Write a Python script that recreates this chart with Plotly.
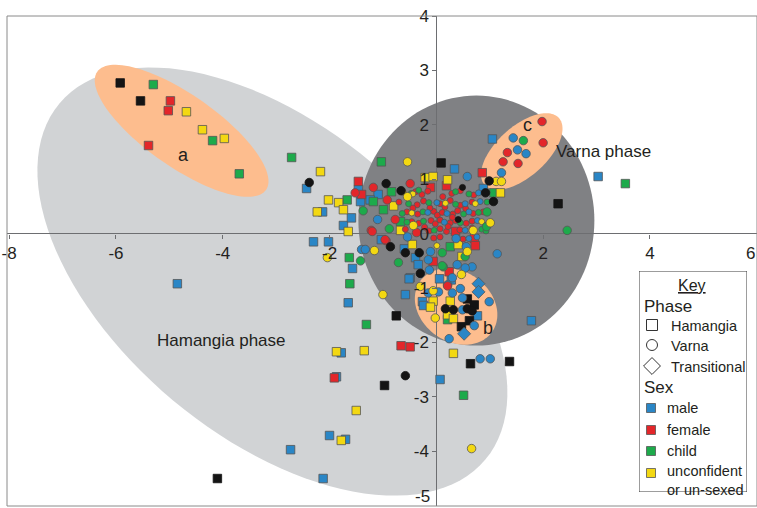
import math
import plotly.graph_objects as go

# ---------------- data (PC1, PC2 scores) ----------------
# Hamangia phase burials (squares)
ham_male = [(-4.85, -0.92), (-2.43, 0.83), (1.05, 1.74), (3.03, 1.05), (0.34, 1.19), (-1.42, 0.59),
            (-1.09, 0.72), (-1.24, 0.62), (-1.03, -0.11), (-1.57, -0.64), (-0.49, -0.81), (-0.39, -0.44),
            (-0.34, -0.57), (0.06, -0.83), (1.78, -1.60), (0.07, -2.68), (-2.73, -3.97), (-2.12, -4.50),
            (-2.00, -3.71), (-1.87, -2.63), (-1.78, -2.19), (-1.65, -1.27), (-2.30, -0.15), (-2.02, -0.15),
            (-1.74, 0.15), (-0.26, -1.25), (-0.24, -1.32), (0.28, -0.85), (0.77, -1.51), (-0.58, -1.12),
            (-0.51, -0.83), (-1.46, 0.81), (-1.59, 0.29), (-0.60, -0.28), (0.88, 0.83), (-1.70, -3.78),
            (-2.13, 0.40)]
ham_female = [(-4.98, 2.44), (-5.02, 2.26), (-5.39, 1.62), (0.86, 1.12), (-0.11, 0.85), (0.19, 0.88),
              (-1.46, 0.96), (-1.40, 0.72), (-0.06, -0.51), (0.24, -0.70), (0.36, 0.04), (0.71, -0.09),
              (0.73, -0.22), (-0.66, -2.06), (-0.49, -2.08), (-1.91, -2.65)]
ham_child = [(-5.30, 2.74), (-4.19, 1.71), (-3.69, 1.10), (-2.71, 1.40), (3.54, 0.92), (-1.03, 1.32),
             (-0.84, 0.77), (-1.18, 0.59), (-0.99, 0.44), (-0.67, 0.22), (-1.63, -0.44), (0.26, -0.24),
             (0.51, -2.97), (0.21, -1.58), (-1.31, -1.67), (-1.62, -0.92), (1.08, 0.75), (-1.67, 0.62)]
ham_unsexed = [(-4.68, 2.24), (-4.38, 1.91), (-3.97, 1.75), (-2.17, 1.14), (-2.23, 0.40), (-2.02, 0.62),
               (-1.83, 0.57), (-1.65, 0.04), (-0.21, 1.03), (-0.06, 1.05), (0.21, 0.99), (-1.74, 0.44),
               (-0.80, 0.51), (-0.67, 0.06), (-0.45, -0.20), (0.41, -0.20), (0.48, -0.42), (1.20, 0.75),
               (-0.06, -1.24), (0.26, -1.24), (-0.11, -1.35), (0.21, -1.49), (0.32, -1.56), (0.32, -2.20),
               (-1.78, -3.80), (-1.50, -3.25), (-1.87, -2.17), (-1.35, -2.15)]
ham_other = [(-5.92, 2.77), (-5.54, 2.44), (0.09, 1.30), (2.28, 0.55), (-4.10, -4.50), (-0.97, -2.79),
             (-0.75, -1.51), (0.64, -2.39), (1.37, -2.35), (0.58, -1.20), (0.71, -1.31), (0.62, -1.60),
             (0.47, -1.71)]

# Varna phase burials (circles)
var_male = [(1.44, 1.76), (1.52, 1.54), (1.68, 1.47), (1.22, 1.12), (0.58, 1.05), (-1.10, 0.26),
            (-1.40, -0.29), (-0.54, -0.06), (-0.11, -0.33), (-0.15, -0.48), (0.37, -0.09), (0.56, -0.24),
            (0.67, -0.61), (0.54, -0.63), (0.30, -0.81), (0.82, -2.30), (1.01, -2.30), (0.24, -1.93),
            (-0.13, -0.67), (0.39, -0.57), (1.14, -0.37), (0.21, -0.94), (-0.15, -1.09), (0.04, -1.07),
            (0.30, -1.09), (0.45, -1.01), (0.49, -1.18), (0.99, -1.25), (0.49, -1.40), (0.71, -1.69),
            (-1.33, -0.29)]
var_female = [(1.98, 2.06), (2.00, 1.67), (1.33, 1.49), (1.25, 1.32), (1.53, 1.29), (-0.49, 0.92),
              (-1.18, 0.85), (-1.52, 0.75), (-0.92, 0.62), (-0.77, 0.26), (-1.22, 0.06), (-0.37, 0.02),
              (-0.94, -0.13), (0.21, -0.96), (-1.20, 0.04), (-0.96, -0.11)]
var_child = [(1.63, 1.71), (2.45, 0.06), (-1.37, 0.42), (-0.88, 0.09), (-1.42, -0.50), (-0.71, -0.53),
             (0.13, -0.61), (0.54, -0.42), (0.94, 0.13), (0.95, 0.40), (0.11, -0.35), (0.11, -0.59)]
var_unsexed = [(-0.54, 1.32), (1.12, 0.96), (1.22, 0.96), (-0.43, 0.15), (-1.16, -0.31), (-0.30, -0.97),
               (0.47, -0.75), (0.69, 0.06), (0.58, -0.33), (1.01, 0.20), (-2.04, -0.44), (-1.00, -1.12),
               (-0.06, -1.05), (-0.02, -1.55), (0.66, -3.95), (-0.54, 0.68)]
var_other = [(-2.38, 0.94), (-0.94, 0.92), (-0.66, 0.79), (-0.86, -0.24), (-0.58, -0.35), (-0.32, -0.35),
             (-0.30, -0.73), (0.92, 0.75), (1.07, 0.59), (0.99, 0.97), (-0.58, -2.61), (0.17, -1.38),
             (0.32, -1.40), (0.58, -1.38), (0.67, -1.42)]

# dense core of Varna burials (smaller symbols)
core_female = [(-0.39, 0.77), (-0.27, 0.72), (-0.16, 0.78), (0.29, 0.74), (0.45, 0.79), (0.70, 0.71),
               (-0.70, 0.58), (-0.36, 0.53), (-0.24, 0.60), (0.07, 0.55), (0.26, 0.61), (0.45, 0.52),
               (0.67, 0.58), (-0.55, 0.40), (-0.35, 0.36), (-0.05, 0.41), (0.02, 0.34), (0.11, 0.39),
               (0.31, 0.36), (0.40, 0.42), (0.69, 0.37), (0.88, 0.40), (-0.46, 0.22), (-0.33, 0.19),
               (-0.10, 0.24), (-0.02, 0.18), (0.07, 0.25), (0.26, 0.20), (0.36, 0.24), (0.56, 0.19),
               (0.67, 0.23), (-0.58, 0.08), (-0.14, 0.05), (0.07, 0.09), (0.19, 0.04), (0.44, 0.07),
               (0.67, 0.10), (-0.05, -0.08), (0.07, -0.06), (0.50, -0.10), (-0.12, 0.47), (0.16, 0.49),
               (0.55, 0.46), (-0.44, 0.47), (0.22, 0.13), (-0.22, 0.12), (0.30, 0.30), (0.12, 0.68)]
core_child = [(-0.47, 0.74), (-0.33, 0.80), (0.36, 0.77), (0.61, 0.73), (0.95, 0.76), (-0.52, 0.55),
              (-0.14, 0.57), (0.36, 0.54), (0.95, 0.58), (-0.64, 0.37), (-0.25, 0.40), (0.51, 0.36),
              (0.79, 0.39), (-0.55, 0.21), (-0.24, 0.23), (0.45, 0.20), (-0.04, 0.06), (0.85, 0.08),
              (0.93, 0.05)]
core_male = [(0.79, 0.75), (0.01, 0.57), (0.54, 0.55), (0.82, 0.59), (-0.16, 0.39), (0.20, 0.37),
             (0.61, 0.40), (0.15, 0.21), (0.77, 0.24), (0.54, 0.06), (0.39, -0.07), (0.61, -0.09),
             (0.76, -0.06), (0.56, -0.22)]
core_unsexed = [(-0.62, 0.76), (-0.44, 0.73), (0.17, 0.56), (0.73, 0.55), (-0.46, 0.38), (0.85, 0.22),
                (0.01, -0.22)]
core_other = [(0.41, 0.26), (0.49, 0.85)]

# Transitional burials (diamonds)
trans_male = [(0.79, -0.92), (0.79, -1.07), (0.52, -1.84)]

# axis ticks (the two edge labels are drawn as text so that they stay inside the page)
x_ticks = [-8, -6, -4, -2, 2, 4]
x_edge_tick = 6
y_ticks = [-4, -3, -2, -1, 0, 1, 2, 3, 4]
y_edge_tick = -5

# key
phase_names = ["Hamangia", "Varna", "Transitional"]
phase_symbols = ["square-open", "circle-open", "diamond-open"]
sex_names = ["male", "female", "child", "unconfident<br>or un-sexed"]

# ---------------- styling ----------------
BLUE = "#2A86C6"
RED = "#E3262A"
GREEN = "#1DAA4B"
YELLOW = "#F3D812"
BLACK = "#141414"
sex_colors = [BLUE, RED, GREEN, YELLOW]
EDGE = "#555555"
TXT = "#231F20"
FONT = "Liberation Sans, Arial, sans-serif"

W, H = 757, 508
ML, MR, MT, MB = 7, 0, 16, 2
PW, PH = W - ML - MR, H - MT - MB
X_RANGE = [-8.04, 6.005]
Y_RANGE = [-5.005, 4.0]
SX = PW / (X_RANGE[1] - X_RANGE[0])
SY = PH / (Y_RANGE[1] - Y_RANGE[0])


def ellipse_path(cx, cy, a_px, b_px, ang_deg, n=120):
    t = math.radians(ang_deg)
    pts = []
    for i in range(n):
        u = 2 * math.pi * i / n
        ex, ey = a_px * math.cos(u), b_px * math.sin(u)
        px = ex * math.cos(t) - ey * math.sin(t)
        py = ex * math.sin(t) + ey * math.cos(t)
        pts.append((cx + px / SX, cy + py / SY))
    return "M " + " L ".join(f"{x:.4f},{y:.4f}" for x, y in pts) + " Z"


fig = go.Figure()


def add_pts(pts, symbol, color, size):
    fig.add_trace(go.Scatter(
        x=[p[0] for p in pts], y=[p[1] for p in pts], mode="markers",
        marker=dict(symbol=symbol, color=color, size=size,
                    line=dict(color=EDGE if color != BLACK else BLACK, width=0.8)),
        showlegend=False, hoverinfo="skip"))


for grp, col in [(ham_male, BLUE), (ham_female, RED), (ham_child, GREEN),
                 (ham_unsexed, YELLOW), (ham_other, BLACK)]:
    add_pts(grp, "square", col, 8.5)
for grp, col in [(core_female, RED), (core_child, GREEN), (core_male, BLUE),
                 (core_unsexed, YELLOW), (core_other, BLACK)]:
    add_pts(grp, "circle", col, 6)
for grp, col in [(var_male, BLUE), (var_female, RED), (var_child, GREEN),
                 (var_unsexed, YELLOW), (var_other, BLACK)]:
    add_pts(grp, "circle", col, 8.5)
add_pts(trans_male, "diamond", BLUE, 10)

# ---------------- ellipses ----------------
LIGHT = "#D1D3D5"
DARK = "#808184"
ORANGE = "#FDBD8E"
shapes = [
    dict(type="path", path=ellipse_path(-3.07, -0.88, 277.6, 154.9, -39.9),
         fillcolor=LIGHT, line=dict(width=0), layer="below"),
    dict(type="path", path=ellipse_path(0.75, 0.24, 118, 125, 0),
         fillcolor=DARK, line=dict(width=0), layer="below"),
    dict(type="path", path=ellipse_path(-4.77, 1.89, 103, 36, -35),
         fillcolor=ORANGE, line=dict(width=0), layer="below"),
    dict(type="path", path=ellipse_path(0.37, -1.34, 44, 35, -35),
         fillcolor=ORANGE, line=dict(width=0), layer="below"),
    dict(type="path", path=ellipse_path(1.60, 1.51, 50, 25, 42),
         fillcolor=ORANGE, line=dict(width=0), layer="below"),
    dict(type="rect", xref="paper", yref="paper", x0=0, x1=1, y0=0, y1=1,
         line=dict(color="#8a8a8a", width=1), fillcolor="rgba(0,0,0,0)", layer="above"),
]

annotations = [
    dict(x=-4.74, y=1.45, text="a", showarrow=False, font=dict(size=18, color=TXT, family=FONT)),
    dict(x=0.97, y=-1.73, text="b", showarrow=False, font=dict(size=18, color=TXT, family=FONT)),
    dict(x=1.70, y=2.00, text="c", showarrow=False, font=dict(size=18, color=TXT, family=FONT)),
    dict(x=2.20, y=1.51, text="Varna phase", showarrow=False, xanchor="left",
         font=dict(size=17, color=TXT, family=FONT)),
    dict(x=-5.26, y=-1.97, text="Hamangia phase", showarrow=False, xanchor="left",
         font=dict(size=17, color=TXT, family=FONT)),
    # edge tick labels kept inside the page
    dict(xref="paper", x=1.0, xanchor="right", yref="y", y=0, yanchor="top", yshift=-8,
         text=str(x_edge_tick), showarrow=False, font=dict(size=17, color=TXT, family=FONT)),
    dict(xref="x", x=0, xanchor="right", xshift=-4, yref="paper", y=-MB / PH, yanchor="bottom",
         text=str(y_edge_tick), showarrow=False, font=dict(size=17, color=TXT, family=FONT)),
]

# ---------------- key (own small pixel-scaled axes) ----------------
KX0, KX1, KY0, KY1 = 639, 747, 271, 492
shapes.append(dict(type="rect", xref="x2", yref="y2", x0=KX0, x1=KX1, y0=KY0, y1=KY1,
                   line=dict(color="#3a3a3a", width=1), fillcolor="white", layer="below"))
annotations += [
    dict(xref="x2", yref="y2", x=692, y=285, text="<u>Key</u>", showarrow=False,
         font=dict(size=16, color=TXT, family=FONT)),
    dict(xref="x2", yref="y2", x=642, y=306, text="Phase", showarrow=False, xanchor="left",
         font=dict(size=17, color=TXT, family=FONT)),
    dict(xref="x2", yref="y2", x=642, y=387, text="Sex", showarrow=False, xanchor="left",
         font=dict(size=17, color=TXT, family=FONT)),
]
phase_y = [325, 345, 366]
for i, name in enumerate(phase_names):
    fig.add_trace(go.Scatter(x=[652], y=[phase_y[i]], xaxis="x2", yaxis="y2", mode="markers",
                             marker=dict(symbol=phase_symbols[i], size=11 if i < 2 else 13,
                                         color="#333333", line=dict(width=1)),
                             showlegend=False, hoverinfo="skip"))
    annotations.append(dict(xref="x2", yref="y2", x=669, y=phase_y[i] + 1, text=name, showarrow=False,
                            xanchor="left", font=dict(size=14.5, color=TXT, family=FONT)))
sex_y = [408, 430, 451, 473]
for i, name in enumerate(sex_names):
    fig.add_trace(go.Scatter(x=[651], y=[sex_y[i]], xaxis="x2", yaxis="y2", mode="markers",
                             marker=dict(symbol="square", size=9, color=sex_colors[i],
                                         line=dict(color=EDGE, width=0.8)),
                             showlegend=False, hoverinfo="skip"))
    yy = sex_y[i] if i < 3 else sex_y[i] + 7
    annotations.append(dict(xref="x2", yref="y2", x=665, y=yy, text=name, showarrow=False,
                            xanchor="left", align="left",
                            font=dict(size=14.5, color=TXT, family=FONT)))

fig.update_layout(
    width=W, height=H, margin=dict(l=ML, r=MR, t=MT, b=MB),
    paper_bgcolor="white", plot_bgcolor="white", showlegend=False,
    font=dict(family=FONT, color=TXT),
    xaxis=dict(range=X_RANGE, domain=[0, 1], anchor="free",
               position=(0 - Y_RANGE[0]) / (Y_RANGE[1] - Y_RANGE[0]),
               showgrid=False, zeroline=True, zerolinecolor="#6d6e71", zerolinewidth=1,
               showline=False, ticks="outside", ticklen=4, tickcolor="#6d6e71",
               tickvals=x_ticks, ticktext=[str(v) for v in x_ticks],
               tickfont=dict(size=17, color=TXT, family=FONT)),
    yaxis=dict(range=Y_RANGE, domain=[0, 1], anchor="free",
               position=(0 - X_RANGE[0]) / (X_RANGE[1] - X_RANGE[0]),
               showgrid=False, zeroline=True, zerolinecolor="#6d6e71", zerolinewidth=1,
               showline=False, ticks="outside", ticklen=4, tickcolor="#6d6e71",
               tickvals=y_ticks, ticktext=[str(v) for v in y_ticks],
               tickfont=dict(size=17, color=TXT, family=FONT)),
    xaxis2=dict(domain=[(KX0 - ML) / PW, (KX1 - ML) / PW], range=[KX0, KX1], anchor="y2",
                visible=False, fixedrange=True),
    yaxis2=dict(domain=[1 - (KY1 - MT) / PH, 1 - (KY0 - MT) / PH], range=[KY1, KY0], anchor="x2",
                visible=False, fixedrange=True),
    shapes=shapes, annotations=annotations,
)

page_fix = (
    "document.body.style.margin='0px';document.body.style.overflow='hidden';"
)
fig.write_html("out.html", config={"displayModeBar": False}, post_script=page_fix)
